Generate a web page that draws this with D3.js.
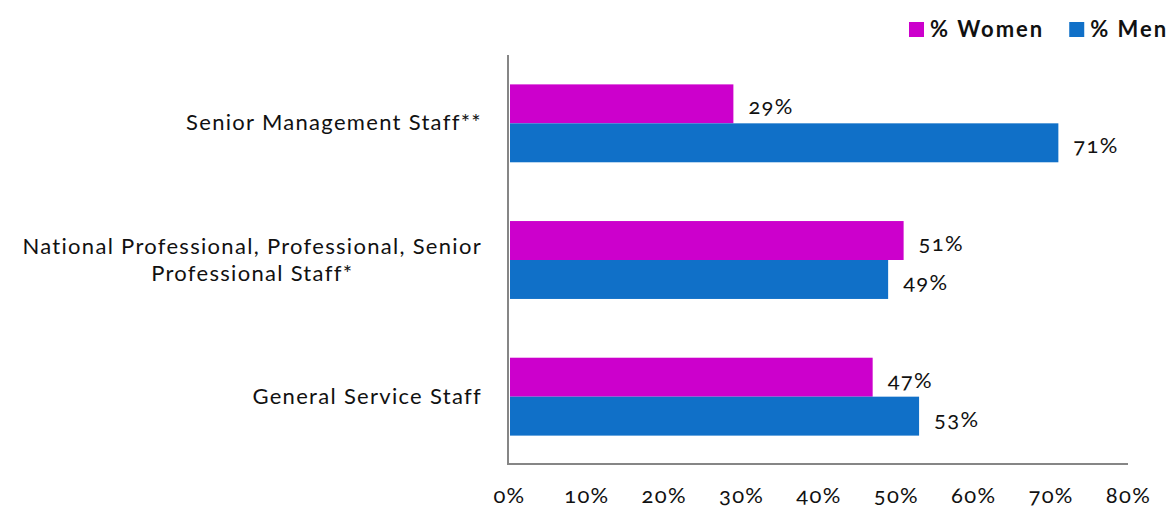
<!DOCTYPE html>
<html>
<head>
<meta charset="utf-8">
<script src="https://cdn.jsdelivr.net/npm/d3@7"></script>
<style>
  html, body { margin: 0; padding: 0; background: #fff; }
  svg text { font-family: Lato, "Open Sans", sans-serif; font-feature-settings: "onum" 1; font-variant-numeric: oldstyle-nums; }
</style>
</head>
<body>
<svg id="chart" width="1173" height="511"></svg>
<script>
// Staff categories, top to bottom (line breaks marked with "\n")
const categories = [
  "Senior Management Staff**",
  "National Professional, Professional, Senior\nProfessional Staff*",
  "General Service Staff"
];
const seriesNames = ["% Women", "% Men"];
const womenValues = [29, 51, 47];
const menValues = [71, 49, 53];
const tickValues = [0, 10, 20, 30, 40, 50, 60, 70, 80];

const colors = { "% Women": "#CC00CC", "% Men": "#1070C8" };

const svg = d3.select("#chart");
const plot = { left: 509, right: 1128, top: 55, bottom: 465 };

const x = d3.scaleLinear().domain([0, 80]).range([plot.left, plot.right]);
const y = d3.scaleBand().domain(categories).range([plot.top, plot.bottom])
  .paddingInner(0.43).paddingOuter(0.215);
const ySub = d3.scaleBand().domain(seriesNames).range([0, y.bandwidth()]);

const rows = categories.map((c, i) => ({ cat: c, values: [
  { key: "% Women", v: womenValues[i] },
  { key: "% Men", v: menValues[i] }
]}));

const textSize = 22, textSpacing = 1.3;

// Bars
const groups = svg.append("g").selectAll("g").data(rows).join("g")
  .attr("transform", d => `translate(0,${y(d.cat)})`);

groups.selectAll("rect").data(d => d.values).join("rect")
  .attr("x", x(0) + 1)
  .attr("y", d => ySub(d.key))
  .attr("width", d => x(d.v) - x(0) - 1)
  .attr("height", ySub.bandwidth())
  .attr("fill", d => colors[d.key]);

// Value labels
groups.selectAll("text").data(d => d.values).join("text")
  .attr("x", d => x(d.v) + 15)
  .attr("y", d => ySub(d.key) + ySub.bandwidth() / 2 + 2)
  .attr("dominant-baseline", "central")
  .attr("font-size", textSize)
  .attr("letter-spacing", textSpacing)
  .attr("fill", "#111")
  .text(d => d.v + "%");

// Axis lines
const axisColor = "#868686";
svg.append("line")
  .attr("x1", plot.left - 1).attr("x2", plot.left - 1)
  .attr("y1", plot.top).attr("y2", plot.bottom)
  .attr("stroke", axisColor).attr("stroke-width", 2);
svg.append("line")
  .attr("x1", plot.left - 2).attr("x2", plot.right)
  .attr("y1", plot.bottom - 1).attr("y2", plot.bottom - 1)
  .attr("stroke", axisColor).attr("stroke-width", 2);

// X tick labels
const xAxis = d3.axisBottom(x).tickValues(tickValues).tickSize(0).tickPadding(0)
  .tickFormat(d => d + "%");
const gx = svg.append("g").attr("transform", `translate(0,${plot.bottom})`).call(xAxis);
gx.select(".domain").remove();
gx.selectAll("text")
  .attr("y", 38).attr("dy", null)
  .attr("font-size", textSize).attr("letter-spacing", textSpacing)
  .attr("fill", "#111");

// Category labels: block right-aligned to the axis, lines centered within it
const labelRight = 482;
const catG = svg.append("g");
categories.forEach(c => {
  const lines = c.split("\n");
  const t = catG.append("text")
    .attr("font-size", textSize).attr("letter-spacing", textSpacing)
    .attr("fill", "#111")
    .attr("text-anchor", "middle");
  const lineH = 27;
  const cy = y(c) + y.bandwidth() / 2;
  const y0 = cy - (lines.length - 1) * lineH / 2 + 7;
  lines.forEach((ln, i) => {
    t.append("tspan").attr("y", y0 + i * lineH).text(ln);
  });
  const tsp = t.selectAll("tspan").nodes();
  const maxW = d3.max(tsp, n => n.getComputedTextLength());
  t.selectAll("tspan").attr("x", labelRight - maxW / 2);
});

// Legend
const legend = svg.append("g");
let lx = 909;
seriesNames.forEach(name => {
  legend.append("rect").attr("x", lx).attr("y", 22).attr("width", 15).attr("height", 15)
    .attr("fill", colors[name]);
  const t = legend.append("text").attr("x", lx + 21).attr("y", 37)
    .attr("font-size", 22).attr("font-weight", "bold").attr("letter-spacing", 2)
    .attr("fill", "#111")
    .text(name);
  lx += 21 + t.node().getComputedTextLength() + 25;
});
</script>
</body>
</html>
